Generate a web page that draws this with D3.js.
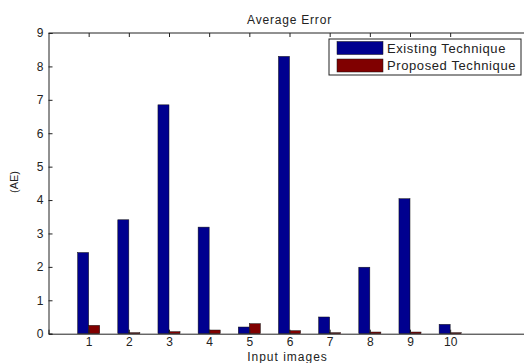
<!DOCTYPE html>
<html>
<head>
<meta charset="utf-8">
<script src="https://cdn.jsdelivr.net/npm/d3@7/dist/d3.min.js"></script>
<style>
  body { margin: 0; background: #fff; }
  svg { display: block; }
  text { font-family: "Liberation Sans", Arial, sans-serif; fill: #222; }
</style>
</head>
<body>
<svg id="chart" width="524" height="363"></svg>
<script>
var images = [1, 2, 3, 4, 5, 6, 7, 8, 9, 10];
var existing = [2.43, 3.41, 6.85, 3.19, 0.2, 8.3, 0.5, 1.99, 4.04, 0.28];
var proposed = [0.25, 0.03, 0.06, 0.11, 0.3, 0.09, 0.03, 0.05, 0.05, 0.03];
var seriesNames = ["Existing Technique", "Proposed Technique"];
var yTicks = [0, 1, 2, 3, 4, 5, 6, 7, 8, 9];

var svg = d3.select("svg#chart");
var margin = { top: 33, left: 48.5 };
var plotW = 482, plotH = 300.7;
var colors = ["#00008f", "#800000"];

var xScale = d3.scaleLinear().domain([0, 12]).range([0, plotW]);
var yScale = d3.scaleLinear().domain([0, 9]).range([plotH, 0]);
var barW = xScale(0.275) - xScale(0);

var g = svg.append("g").attr("transform", "translate(" + margin.left + "," + margin.top + ")");

// bars
[existing, proposed].forEach(function (vals, s) {
  g.selectAll("rect.s" + s).data(vals).enter().append("rect")
    .attr("x", function (d, i) { return xScale(images[i]) - barW + s * barW; })
    .attr("y", function (d) { return yScale(d); })
    .attr("width", barW)
    .attr("height", function (d) { return plotH - yScale(d); })
    .style("fill", colors[s])
    .style("stroke", "#111")
    .style("stroke-width", 0.5);
});

// axes (MATLAB style, ticks inward)
var leftAxis = d3.axisLeft(yScale).tickValues(yTicks).tickSize(-4).tickPadding(5).tickFormat(d3.format("d"));
var bottomAxis = d3.axisBottom(xScale).tickValues(images).tickSize(-4).tickPadding(4).tickFormat(d3.format("d"));
var topAxis = d3.axisTop(xScale).tickValues(images).tickSize(-4).tickFormat("");

g.append("g").attr("class", "y axis").call(leftAxis);
g.append("g").attr("class", "x axis").attr("transform", "translate(0," + plotH + ")").call(bottomAxis);
g.append("g").attr("class", "top axis").call(topAxis);

g.selectAll(".axis path, .axis line, .top path, .top line").style("stroke", "#222").style("stroke-width", 1);
g.selectAll(".top path").attr("d", "M0,0H" + plotW);
g.selectAll(".axis text").style("font-size", "12px").style("fill", "#222")
  .style("font-family", "'Liberation Sans', Arial, sans-serif");

// title and labels
svg.append("text").attr("x", margin.left + plotW / 2).attr("y", 24)
  .attr("text-anchor", "middle").style("font-size", "12px").style("letter-spacing", "0.8px")
  .text("Average Error");
svg.append("text").attr("x", margin.left + plotW / 2 - 2).attr("y", 361)
  .attr("text-anchor", "middle").style("font-size", "12px").style("letter-spacing", "1px")
  .text("Input images");
svg.append("text").attr("transform", "translate(18,182) rotate(-90)")
  .attr("text-anchor", "middle").style("font-size", "11px").text("(AE)");

// legend
var leg = svg.append("g").attr("transform", "translate(329,39)");
leg.append("rect").attr("width", 192).attr("height", 36)
  .style("fill", "#fff").style("stroke", "#222").style("stroke-width", 1);
seriesNames.forEach(function (name, i) {
  leg.append("rect").attr("x", 8).attr("y", 2.5 + i * 17.5).attr("width", 46).attr("height", 13)
    .style("fill", colors[i]).style("stroke", "#111").style("stroke-width", 0.5);
  leg.append("text").attr("x", 58).attr("y", 14.3 + i * 17)
    .style("font-size", "13px").style("letter-spacing", "0.6px").text(name);
});
</script>
</body>
</html>
